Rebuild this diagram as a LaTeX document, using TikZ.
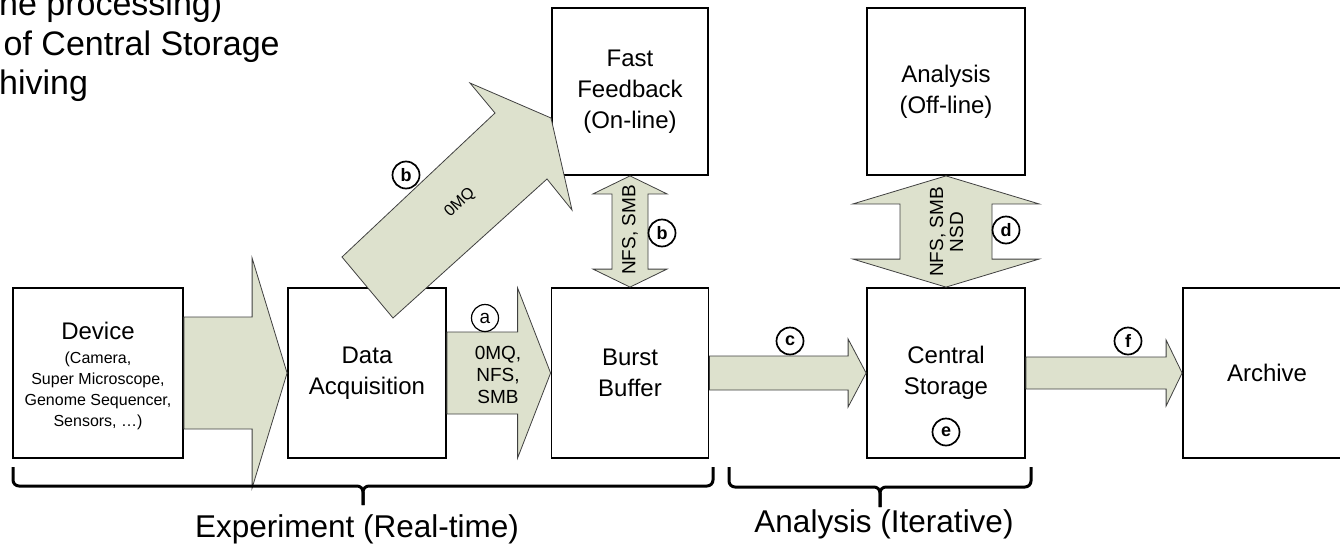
\documentclass[tikz,border=0pt]{standalone}
\usepackage{fontspec}
\setmainfont{Liberation Sans}
\usetikzlibrary{calc}

\definecolor{pipefill}{RGB}{221,225,205}
\definecolor{pipeline}{RGB}{64,64,64}

% fat horizontal pipe: from node, to node, body half, head half, head length
\newcommand{\hpipe}[5]{%
  \path[pipe] ($(#1.east)+(0,-#3)$) -- ($(#2.west)+(-#5,-#3)$) -- ($(#2.west)+(-#5,-#4)$)
    -- (#2.west) -- ($(#2.west)+(-#5,#4)$) -- ($(#2.west)+(-#5,#3)$) -- ($(#1.east)+(0,#3)$) -- cycle;}
% fat vertical two-way pipe: top node, bottom node, body half, head half, head length
\newcommand{\vpipe}[5]{%
  \path[pipe] (#1.south) -- ($(#1.south)+(#4,#5)$) -- ($(#1.south)+(#3,#5)$)
    -- ($(#2.north)+(#3,-#5)$) -- ($(#2.north)+(#4,-#5)$) -- (#2.north)
    -- ($(#2.north)+(-#4,-#5)$) -- ($(#2.north)+(-#3,-#5)$)
    -- ($(#1.south)+(-#3,#5)$) -- ($(#1.south)+(-#4,#5)$) -- cycle;}

\begin{document}
\begin{tikzpicture}[x=1pt, y=-1pt,
    blk/.style={draw, line width=1.8pt, fill=white, minimum width=158pt, minimum height=170pt,
      align=center, inner sep=0pt, font=\fontsize{24}{31}\selectfont},
    pipe/.style={draw=pipeline, line width=0.8pt, fill=pipefill},
    tag/.style={circle, draw, line width=1.7pt, fill=white, minimum size=27pt, inner sep=0pt,
      font=\bfseries\fontsize{18}{18}\selectfont},
    plabel/.style={align=center, font=\fontsize{19}{22}\selectfont},
    brk/.style={line width=3pt, rounded corners=6pt}]
    \useasboundingbox (0,0) rectangle (1340,546);

    % Cut-off bullet lines at the top left
    \node[anchor=base west, inner sep=0pt, font=\fontsize{34}{40}\selectfont] (note1) at (-1,15) {ne processing)};
    \node[anchor=base west, inner sep=0pt, font=\fontsize{34}{40}\selectfont] (note2) at (3.5,55) {of Central Storage};
    \node[anchor=base west, inner sep=0pt, font=\fontsize{34}{40}\selectfont] (note3) at (-1,94) {hiving};

    % The boxes
    \node[blk, minimum width=170pt, font=\fontsize{16}{21}\selectfont] (Device) at (98,373)
      {\begin{tabular}{@{}c@{}}\rule{0pt}{27pt}\fontsize{24}{29}\selectfont Device\\[3pt]
        (Camera,\\ Super Microscope,\\ Genome Sequencer,\\ Sensors, …)\end{tabular}};
    \node[blk] (DAQ) at (367,373) {Data\\Acquisition};
    \node[blk, minimum width=157pt] (Burst) at (630,373) {Burst\\Buffer};
    \node[blk, minimum width=156pt, minimum height=167pt] (FastFB) at (630,91.5) {Fast\\Feedback\\(On-line)};
    \node[blk, minimum height=167pt] (Analysis) at (946,91.5) {Analysis\\(Off-line)};
    \node[blk] (Central) at (946,373) {Central\\Storage};
    \node[blk, minimum width=168pt] (Archive) at (1267,373) {Archive};

    % Fat pipes between the boxes
    \hpipe{Device}{DAQ}{56}{115}{35}
    \hpipe{DAQ}{Burst}{41}{85}{33}
    \hpipe{Burst}{Central}{17}{34}{18}
    \hpipe{Central}{Archive}{16}{33}{16}
    \vpipe{FastFB}{Burst}{18}{37}{18}
    \vpipe{Analysis}{Central}{46}{93}{28}

    % Bent pipe up to fast feedback
    \draw[pipe] (342,257) -- (495,113) -- (470,83) -- (551,118) -- (572,210) -- (547,179) -- (393,318) -- cycle;

    % Pipe labels
    \node[plabel] (a_lbl) at (498,375) {0MQ,\\NFS,\\SMB};
    \node[font=\fontsize{16}{16}\selectfont, rotate=43, inner sep=1pt] (zmq_lbl) at (460,203) {0MQ};
    \node[plabel, rotate=90] (b_lbl) at (630,230) {NFS, SMB};
    \node[plabel, rotate=90, font=\fontsize{19}{20}\selectfont] (d_lbl) at (946.5,232) {NFS, SMB\\NSD};

    % Circled tags
    \node[tag, line width=1.2pt, font=\fontsize{19}{19}\selectfont] (tag_a) at (485,318) {a};
    \node[tag] (tag_b1) at (406,175) {b};
    \node[tag] (tag_b2) at (662,233) {b};
    \node[tag] (tag_c) at (790,341) {c};
    \node[tag] (tag_d) at (1006,230) {d};
    \node[tag] (tag_e) at (946,432) {e};
    \node[tag] (tag_f) at (1128,341) {f};

    % Braces underneath
    \coordinate (exp_tip) at (363,505);
    \coordinate (ana_tip) at (880,507);
    \draw[brk] (13,467) |- (363,486) -- (exp_tip);
    \draw[brk] (713,467) |- (363,486) -- (exp_tip);
    \draw[brk] (729,467) |- (880,487) -- (ana_tip);
    \draw[brk] (1031,467) |- (880,487) -- (ana_tip);

    \node[anchor=base west, inner sep=0pt, font=\fontsize{31.5}{36}\selectfont] (exp_lbl) at (195,537) {Experiment (Real-time)};
    \node[anchor=base, font=\fontsize{31.5}{36}\selectfont] (ana_lbl) at (884,532) {Analysis (Iterative)};

\end{tikzpicture}
\end{document}
